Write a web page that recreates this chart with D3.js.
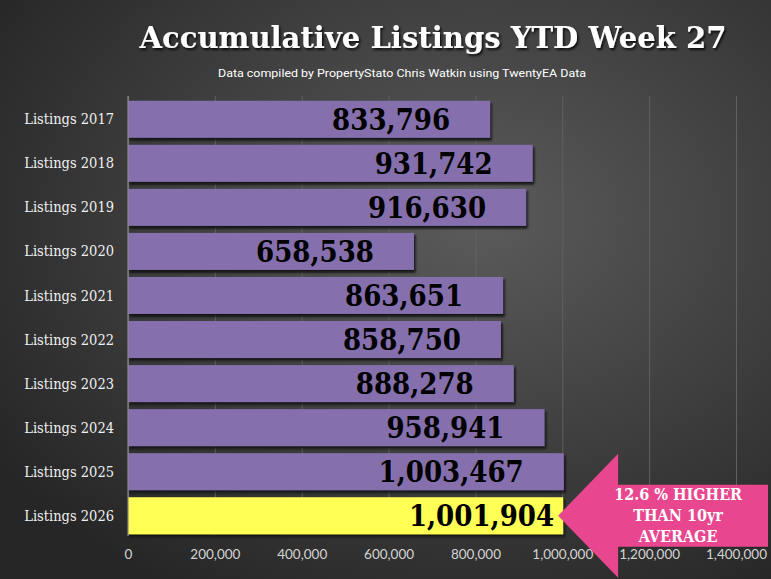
<!DOCTYPE html>
<html>
<head>
<meta charset="utf-8">
<script src="https://cdn.jsdelivr.net/npm/d3@7"></script>
<style>
  html, body { margin: 0; padding: 0; background: #333; }
  svg { display: block; }
</style>
</head>
<body>
<div id="chart"></div>
<script>
// chart data
const categories = [
  "Listings 2017", "Listings 2018", "Listings 2019", "Listings 2020", "Listings 2021",
  "Listings 2022", "Listings 2023", "Listings 2024", "Listings 2025", "Listings 2026"
];
const listings = [833796, 931742, 916630, 658538, 863651, 858750, 888278, 958941, 1003467, 1001904];
const xTicks = [0, 200000, 400000, 600000, 800000, 1000000, 1200000, 1400000];
const titleText = "Accumulative Listings YTD Week 27";
const subtitleText = "Data compiled by PropertyStato Chris Watkin using TwentyEA Data";
const calloutLines = ["12.6 % HIGHER", "THAN 10yr", "AVERAGE"];

const width = 771,
  height = 579,
  margin = { top: 99, right: 35, bottom: 43, left: 128 };

const slab = "'DejaVu Serif', serif";

const svg = d3.select("#chart")
  .append("svg")
  .attr("width", width)
  .attr("height", height);

const defs = svg.append("defs");

const bg = defs.append("radialGradient")
  .attr("id", "bg")
  .attr("cx", "62%").attr("cy", "38%").attr("r", "75%");
bg.append("stop").attr("offset", "0%").attr("stop-color", "#5b5b5b");
bg.append("stop").attr("offset", "100%").attr("stop-color", "#262626");

const shadow = defs.append("filter")
  .attr("id", "shadow")
  .attr("x", "-5%").attr("y", "-20%").attr("width", "115%").attr("height", "150%");
shadow.append("feDropShadow")
  .attr("dx", 1.5).attr("dy", 2.5).attr("stdDeviation", 0.8)
  .attr("flood-color", "#111").attr("flood-opacity", 0.95);

const textShadow = defs.append("filter").attr("id", "tshadow");
textShadow.append("feDropShadow")
  .attr("dx", 1.5).attr("dy", 2).attr("stdDeviation", 1)
  .attr("flood-color", "#000").attr("flood-opacity", 0.8);

svg.append("rect")
  .attr("width", width).attr("height", height)
  .attr("fill", "url(#bg)");

// scales
const x = d3.scaleLinear()
  .domain([0, 1400000])
  .range([margin.left, width - margin.right]);

const y = d3.scaleBand()
  .domain(categories)
  .range([margin.top, height - margin.bottom])
  .paddingInner(0.16)
  .paddingOuter(0.04);

// gridlines
svg.append("g")
  .attr("transform", `translate(0,${height - margin.bottom})`)
  .call(d3.axisBottom(x).tickValues(xTicks).tickSize(-(height - margin.bottom - margin.top + 3)).tickFormat(""))
  .call(g => g.select(".domain").remove())
  .call(g => g.selectAll("line").attr("stroke", "#616161").attr("stroke-width", 1));

// x tick labels
svg.append("g")
  .attr("transform", `translate(0,${height - margin.bottom})`)
  .call(d3.axisBottom(x).tickValues(xTicks).tickSize(0).tickPadding(13).tickFormat(d3.format(",")))
  .call(g => g.select(".domain").remove())
  .call(g => g.selectAll("text")
    .attr("fill", "#d4d4d4")
    .style("font-family", "'Lato', 'Open Sans', sans-serif")
    .style("font-size", "13.5px"));

// bars
svg.append("g")
  .selectAll("rect")
  .data(listings)
  .join("rect")
  .attr("x", x(0))
  .attr("y", (d, i) => y(categories[i]))
  .attr("width", d => x(d) - x(0))
  .attr("height", y.bandwidth())
  .attr("fill", (d, i) => i === listings.length - 1 ? "#ffff55" : "#8570ad")
  .attr("filter", "url(#shadow)");

// vertical axis line
svg.append("line")
  .attr("x1", x(0)).attr("x2", x(0))
  .attr("y1", margin.top - 3).attr("y2", height - margin.bottom)
  .attr("stroke", "#8a8a8a").attr("stroke-width", 1.2);

// category labels
svg.append("g")
  .selectAll("text")
  .data(categories)
  .join("text")
  .attr("x", x(0) - 14)
  .attr("y", d => y(d) + y.bandwidth() / 2)
  .attr("dy", "0.35em")
  .attr("text-anchor", "end")
  .attr("fill", "#f0f0f0")
  .style("font-family", slab)
  .style("font-stretch", "condensed")
  .style("font-size", "14.5px")
  .text(d => d);

// value labels
svg.append("g")
  .selectAll("text")
  .data(listings)
  .join("text")
  .attr("x", (d, i) => x(d) - (i === listings.length - 1 ? 9 : 40))
  .attr("y", (d, i) => y(categories[i]) + y.bandwidth() / 2)
  .attr("dy", "0.36em")
  .attr("text-anchor", "end")
  .attr("fill", "#000")
  .style("font-family", slab)
  .style("font-stretch", "condensed")
  .style("font-weight", "bold")
  .style("font-size", "29px")
  .text(d => d3.format(",")(d));

// title and subtitle
svg.append("text")
  .attr("x", 433).attr("y", 48)
  .attr("text-anchor", "middle")
  .attr("fill", "#fff")
  .attr("filter", "url(#tshadow)")
  .attr("textLength", 587)
  .attr("lengthAdjust", "spacingAndGlyphs")
  .style("font-family", slab)
  .style("font-weight", "bold")
  .style("font-size", "29px")
  .text(titleText);

svg.append("text")
  .attr("x", 402).attr("y", 77)
  .attr("text-anchor", "middle")
  .attr("fill", "#fff")
  .attr("textLength", 368)
  .attr("lengthAdjust", "spacingAndGlyphs")
  .style("font-family", "'Liberation Sans Narrow', 'Roboto', sans-serif")
  .style("font-size", "11.5px")
  .text(subtitleText);

// callout arrow pointing at the latest bar
const last = categories[categories.length - 1];
const tipX = x(listings[listings.length - 1]) - 5,
  midY = y(last) + y.bandwidth() / 2,
  headX = tipX + 60,
  headHalf = 62,
  bodyHalf = 31,
  bodyEnd = width - 3;

svg.append("path")
  .attr("d", d3.line()([
    [tipX, midY],
    [headX, midY - headHalf],
    [headX, midY - bodyHalf],
    [bodyEnd, midY - bodyHalf],
    [bodyEnd, midY + bodyHalf],
    [headX, midY + bodyHalf],
    [headX, midY + headHalf]
  ]) + "Z")
  .attr("fill", "#e8478f");

svg.append("g")
  .selectAll("text")
  .data(calloutLines)
  .join("text")
  .attr("x", headX + 60)
  .attr("y", (d, i) => midY - 21 + i * 21)
  .attr("dy", "0.35em")
  .attr("text-anchor", "middle")
  .attr("fill", "#fff")
  .style("font-family", slab)
  .style("font-weight", "bold")
  .style("font-stretch", "condensed")
  .style("font-size", "16px")
  .text(d => d);
</script>
</body>
</html>
